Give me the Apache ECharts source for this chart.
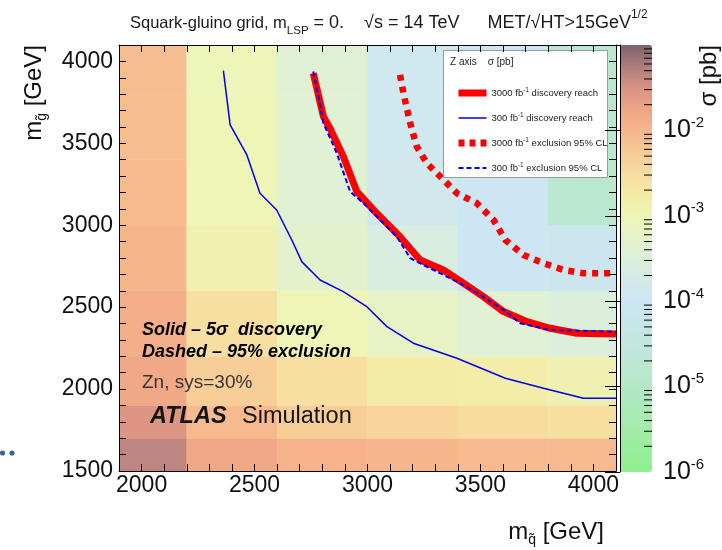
<!DOCTYPE html>
<html>
<head>
<meta charset="utf-8">
<script src="https://cdn.jsdelivr.net/npm/echarts@6/dist/echarts.min.js"></script>
<style>
  html, body { margin: 0; padding: 0; background: #ffffff; }
  #chart { width: 722px; height: 550px; }
</style>
</head>
<body>
<div id="chart"></div>
<script>
// Squark-gluino plane: cell edges in GeV
const squarkEdges = [1800, 2200, 2600, 3000, 3400, 3800, 4200];
const gluinoEdges = [1500, 1700, 1900, 2200, 2600, 3000, 3400, 3800, 4200];

// log10(sigma / pb) per cell; one list per squark column, gluino rows bottom -> top
const logSigmaCol1 = [-1.35, -1.55, -1.80, -1.90, -2.00, -2.05, -2.10, -2.10];
const logSigmaCol2 = [-1.80, -2.05, -2.30, -2.55, -2.90, -3.00, -3.00, -3.02];
const logSigmaCol3 = [-1.95, -2.30, -2.55, -3.00, -3.30, -3.40, -3.40, -3.42];
const logSigmaCol4 = [-2.00, -2.40, -2.75, -3.20, -3.60, -3.85, -3.90, -3.90];
const logSigmaCol5 = [-2.05, -2.50, -2.80, -3.40, -4.00, -4.00, -4.05, -4.05];
const logSigmaCol6 = [-2.05, -2.55, -2.90, -3.50, -4.10, -4.80, -4.80, -4.80];
const logSigmaColumns = [logSigmaCol1, logSigmaCol2, logSigmaCol3, logSigmaCol4, logSigmaCol5, logSigmaCol6];

// 3000 fb-1, 5 sigma discovery reach
const disc3000Squark = [2760, 2805, 2834, 2893, 2953, 3041, 3144, 3233, 3336, 3425, 3513, 3602, 3706, 3809, 3927, 4100];
const disc3000Gluino = [3928, 3663, 3592, 3419, 3205, 3073, 2930, 2788, 2727, 2646, 2564, 2473, 2411, 2371, 2341, 2336];

// 300 fb-1, 5 sigma discovery reach
const disc300Squark = [2362, 2392, 2466, 2524, 2598, 2665, 2709, 2790, 2893, 2997, 3086, 3203, 3396, 3610, 3779, 3956, 4100];
const disc300Gluino = [3944, 3612, 3429, 3195, 3093, 2910, 2778, 2666, 2595, 2503, 2381, 2280, 2188, 2066, 2005, 1944, 1944];

// 3000 fb-1, 95% CL exclusion
const excl3000Squark = [3144, 3159, 3189, 3218, 3263, 3322, 3396, 3484, 3558, 3610, 3690, 3779, 3868, 3956, 4100];
const excl3000Gluino = [3918, 3806, 3623, 3480, 3378, 3297, 3195, 3134, 3032, 2910, 2819, 2768, 2727, 2707, 2707];

// 300 fb-1, 95% CL exclusion
const excl300Squark = [2760, 2783, 2805, 2864, 2923, 2982, 3041, 3130, 3189, 3277, 3410, 3499, 3602, 3676, 3809, 4100];
const excl300Gluino = [3938, 3785, 3623, 3440, 3205, 3134, 3053, 2930, 2799, 2737, 2646, 2574, 2483, 2402, 2361, 2350];

// Axis tick labels
const squarkTickLabels = [2000, 2500, 3000, 3500, 4000];
const gluinoTickLabels = [1500, 2000, 2500, 3000, 3500, 4000];
const sigmaDecades = [-6, -5, -4, -3, -2];
const sigmaMantissas = [2, 3, 4, 5, 6, 7, 8, 9];

const FONT = 'Liberation Sans, Arial, Helvetica, sans-serif';

// Build cell records [x0, x1, y0, y1, log10 sigma]
const cells = [];
logSigmaColumns.forEach(function (col, i) {
  col.forEach(function (v, j) {
    cells.push([squarkEdges[i], squarkEdges[i + 1], gluinoEdges[j], gluinoEdges[j + 1], v]);
  });
});

function zip(xs, ys) { return xs.map(function (x, i) { return [x, ys[i]]; }); }

// Minor ticks of the colour scale
const minorTickValues = [];
sigmaDecades.forEach(function (d) {
  sigmaMantissas.forEach(function (m) { minorTickValues.push([1, m * Math.pow(10, d)]); });
});

const chart = echarts.init(document.getElementById('chart'), null, { renderer: 'canvas' });

const mainAxisLine = { show: true, onZero: false, lineStyle: { color: '#000', width: 1 } };
const mainTick = { show: true, inside: true, length: 7, lineStyle: { color: '#000', width: 1 } };
const titleText = { fontFamily: FONT, color: '#1a1a1a', fontWeight: 'normal' };

const option = {
  backgroundColor: '#ffffff',
  animation: false,
  title: {
    left: 125,
    top: 4,
    text: '{p|Squark-gluino grid, m}{sub|LSP}{a| = 0.}{g1|}{a|\u221As = 14 TeV}{g2|}{a|MET/\u221AHT>15GeV}{sup|1/2}',
    textStyle: {
      fontWeight: 'normal',
      rich: {
        p: Object.assign({ fontSize: 16.5, lineHeight: 28 }, titleText),
        a: Object.assign({ fontSize: 18, lineHeight: 28 }, titleText),
        sub: Object.assign({ fontSize: 11.5, verticalAlign: 'bottom', lineHeight: 28 }, titleText),
        sup: Object.assign({ fontSize: 12, verticalAlign: 'top', lineHeight: 28 }, titleText),
        g1: { width: 20 },
        g2: { width: 28 }
      }
    }
  },
  grid: [
    { left: 119, top: 45, width: 497, height: 426, show: false },
    { left: 620, top: 45, width: 32, height: 427, show: false }
  ],
  xAxis: [
    {
      gridIndex: 0, type: 'value', min: 1900, max: 4100, interval: 100, position: 'bottom', z: 10,
      axisLine: mainAxisLine, axisTick: mainTick, splitLine: { show: false },
      axisLabel: {
        margin: 3, fontSize: 23, fontFamily: FONT, color: '#111',
        formatter: function (v) { return squarkTickLabels.indexOf(v) >= 0 ? String(v) : ''; }
      }
    },
    {
      gridIndex: 0, type: 'value', min: 1900, max: 4100, interval: 100, position: 'top', z: 10,
      axisLine: mainAxisLine, axisTick: mainTick, splitLine: { show: false }, axisLabel: { show: false }
    },
    { gridIndex: 1, type: 'value', min: 0, max: 1, show: false }
  ],
  yAxis: [
    {
      gridIndex: 0, type: 'value', min: 1500, max: 4100, interval: 100, position: 'left', z: 10,
      axisLine: mainAxisLine, axisTick: mainTick, splitLine: { show: false },
      axisLabel: {
        margin: 6, fontSize: 23, fontFamily: FONT, color: '#111',
        formatter: function (v) { return gluinoTickLabels.indexOf(v) >= 0 ? String(v) : ''; }
      }
    },
    {
      gridIndex: 0, type: 'value', min: 1500, max: 4100, interval: 100, position: 'right', z: 10,
      axisLine: mainAxisLine, axisTick: mainTick, splitLine: { show: false }, axisLabel: { show: false }
    },
    {
      gridIndex: 1, type: 'log', logBase: 10, min: 1e-6, max: 1e-1, position: 'right', z: 10,
      axisLine: { show: true, lineStyle: { color: '#000', width: 1 } },
      axisTick: { show: true, inside: true, length: 15, lineStyle: { color: '#000', width: 1 } },
      splitLine: { show: false },
      axisLabel: {
        margin: 11,
        formatter: function (v) {
          const e = Math.round(Math.log10(v));
          if (sigmaDecades.indexOf(e) < 0) return '';
          return '{b|10}{s|' + e + '}';
        },
        rich: {
          b: { fontSize: 25, fontFamily: FONT, color: '#111', lineHeight: 30 },
          s: { fontSize: 15, fontFamily: FONT, color: '#111', verticalAlign: 'top', lineHeight: 30 }
        }
      }
    }
  ],
  visualMap: {
    type: 'continuous',
    seriesIndex: 0,
    dimension: 4,
    min: -6,
    max: -1,
    calculable: false,
    hoverLink: false,
    text: null,
    orient: 'vertical',
    left: 620,
    top: 45,
    padding: 0,
    itemWidth: 32,
    itemHeight: 427,
    z: 4,
    inRange: {
      color: ['#8ef08e', '#98ee9c', '#a2ecaa', '#aceab8', '#b4e8c6', '#bbe7d3', '#c2e6df',
              '#c8e6ea', '#cde6f3', '#d4eae8', '#dcefdb', '#e5f3c9', '#eef5b6', '#f4eba6',
              '#f7dca0', '#f7ca96', '#f6b68c', '#f0a486', '#d99384', '#ad7c7e', '#7e6268']
    }
  },
  legend: {
    orient: 'vertical',
    left: 450,
    top: 82,
    z: 8,
    itemWidth: 28,
    itemHeight: 8,
    itemGap: 13,
    selectedMode: false,
    itemStyle: { opacity: 0 },
    textStyle: {
      fontSize: 9.5, fontFamily: FONT, color: '#222', lineHeight: 12,
      rich: { sup: { fontSize: 6.5, fontFamily: FONT, color: '#222', verticalAlign: 'top', lineHeight: 12 } }
    },
    formatter: function (name) { return name.replace('fb-1', 'fb{sup|-1}'); },
    data: [
      { name: '3000 fb-1 discovery reach', lineStyle: { width: 7, color: '#ff0000' } },
      { name: '300 fb-1 discovery reach', lineStyle: { width: 1.5, color: '#0000ee' } },
      { name: '3000 fb-1 exclusion 95% CL', lineStyle: { width: 7, color: '#ff0000', type: [6, 5] } },
      { name: '300 fb-1 exclusion 95% CL', lineStyle: { width: 2, color: '#0000ee', type: [5, 3] } }
    ]
  },
  graphic: [
    // legend frame
    { type: 'rect', z: 5, shape: { x: 443.5, y: 50.5, width: 164, height: 127 },
      style: { fill: '#ffffff', stroke: '#9a9a9a', lineWidth: 1 } },
    { type: 'text', z: 6, x: 450, y: 62,
      style: { text: 'Z axis    \u03C3 [pb]', fontSize: 10, fontFamily: FONT, fill: '#222', verticalAlign: 'middle' } },
    // annotations
    { type: 'text', z: 6, x: 142, y: 330,
      style: { text: 'Solid \u2013 5\u03C3  discovery', fontSize: 18, fontWeight: 'bold', fontStyle: 'italic', fontFamily: FONT, fill: '#000', verticalAlign: 'middle' } },
    { type: 'text', z: 6, x: 142, y: 352,
      style: { text: 'Dashed \u2013 95% exclusion', fontSize: 18, fontWeight: 'bold', fontStyle: 'italic', fontFamily: FONT, fill: '#000', verticalAlign: 'middle' } },
    { type: 'text', z: 6, x: 142, y: 383,
      style: { text: 'Zn, sys=30%', fontSize: 19, fontFamily: FONT, fill: '#3a3333', verticalAlign: 'middle' } },
    { type: 'text', z: 6, x: 150, y: 417,
      style: { text: 'ATLAS', fontSize: 23.5, fontWeight: 'bold', fontStyle: 'italic', fontFamily: FONT, fill: '#151515', verticalAlign: 'middle' } },
    { type: 'text', z: 6, x: 242, y: 417,
      style: { text: 'Simulation', fontSize: 23.5, fontFamily: FONT, fill: '#151515', verticalAlign: 'middle' } },
    // axis titles
    { type: 'text', z: 6, x: 34, y: 45, rotation: Math.PI / 2,
      style: {
        text: '{a|m}{sub|g\u0303}{a| [GeV]}', align: 'right', verticalAlign: 'middle',
        rich: {
          a: { fontSize: 24, fontFamily: FONT, fill: '#111', lineHeight: 30 },
          sub: { fontSize: 14, fontFamily: FONT, fill: '#111', verticalAlign: 'bottom', lineHeight: 30 }
        }
      } },
    { type: 'text', z: 6, x: 604, y: 532,
      style: {
        text: '{a|m}{sub|q\u0303}{a| [GeV]}', align: 'right', verticalAlign: 'middle',
        rich: {
          a: { fontSize: 24, fontFamily: FONT, fill: '#111', lineHeight: 30 },
          sub: { fontSize: 14, fontFamily: FONT, fill: '#111', verticalAlign: 'bottom', lineHeight: 30 }
        }
      } },
    { type: 'text', z: 6, x: 709, y: 45, rotation: Math.PI / 2,
      style: { text: '\u03C3 [pb]', align: 'right', verticalAlign: 'middle', fontSize: 24, fontFamily: FONT, fill: '#111' } },
    // slide bullet remnant at the left edge
    { type: 'circle', z: 6, shape: { cx: 2.5, cy: 453, r: 2.6 }, style: { fill: '#3d6197' } },
    { type: 'circle', z: 6, shape: { cx: 12, cy: 453, r: 2.6 }, style: { fill: '#3d6197' } }
  ],
  series: [
    {
      name: 'cells',
      type: 'custom',
      xAxisIndex: 0,
      yAxisIndex: 0,
      clip: true,
      z: 1,
      silent: true,
      encode: { x: [0, 1], y: [2, 3] },
      data: cells,
      renderItem: function (params, api) {
        const p0 = api.coord([api.value(0), api.value(3)]);
        const p1 = api.coord([api.value(1), api.value(2)]);
        const c = api.visual('color');
        return {
          type: 'rect',
          shape: { x: p0[0], y: p0[1], width: p1[0] - p0[0], height: p1[1] - p0[1] },
          style: { fill: c, stroke: c, lineWidth: 0.6 }
        };
      }
    },
    {
      name: '3000 fb-1 exclusion 95% CL', type: 'line', xAxisIndex: 0, yAxisIndex: 0, z: 3,
      symbol: 'none', silent: true, data: zip(excl3000Squark, excl3000Gluino),
      lineStyle: { color: '#ff0000', width: 6.5, type: [6, 6], cap: 'butt' }
    },
    {
      name: '3000 fb-1 discovery reach', type: 'line', xAxisIndex: 0, yAxisIndex: 0, z: 3,
      symbol: 'none', silent: true, data: zip(disc3000Squark, disc3000Gluino),
      lineStyle: { color: '#ff0000', width: 7, join: 'round' }
    },
    {
      name: '300 fb-1 exclusion 95% CL', type: 'line', xAxisIndex: 0, yAxisIndex: 0, z: 3,
      symbol: 'none', silent: true, data: zip(excl300Squark, excl300Gluino),
      lineStyle: { color: '#0000ee', width: 2, type: [5, 3] }
    },
    {
      name: '300 fb-1 discovery reach', type: 'line', xAxisIndex: 0, yAxisIndex: 0, z: 3,
      symbol: 'none', silent: true, data: zip(disc300Squark, disc300Gluino),
      lineStyle: { color: '#0000ee', width: 1.5 }
    },
    {
      name: 'colour scale ticks',
      type: 'custom',
      xAxisIndex: 2,
      yAxisIndex: 2,
      z: 10,
      silent: true,
      data: minorTickValues,
      renderItem: function (params, api) {
        const p = api.coord([api.value(0), api.value(1)]);
        return {
          type: 'line',
          shape: { x1: p[0], y1: p[1], x2: p[0] - 8, y2: p[1] },
          style: { stroke: '#000', lineWidth: 1 }
        };
      }
    }
  ]
};

chart.setOption(option);
</script>
</body>
</html>
